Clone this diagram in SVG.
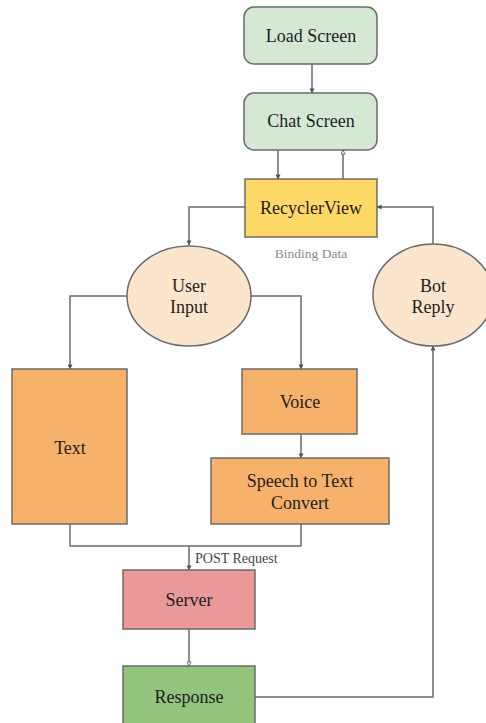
<svg xmlns="http://www.w3.org/2000/svg" width="486" height="723" viewBox="0 0 486 723">
  <style>
    .node { stroke: #6b6b6b; stroke-width: 1.5; }
    .green { fill: #d5e8d4; }
    .yellow { fill: #ffd966; }
    .peach { fill: #fce5cd; }
    .orange { fill: #f6b26b; }
    .red { fill: #ea9999; }
    .dgreen { fill: #93c47d; }
    text { font-family: "Liberation Serif", "Times New Roman", "DejaVu Serif", serif; }
    .label { font-size: 18px; fill: #1e1e1e; text-anchor: middle; dominant-baseline: central; }
    .note { font-size: 13.5px; fill: #8a8a8a; text-anchor: middle; dominant-baseline: central; }
    .edge-label { font-size: 14px; fill: #444; dominant-baseline: central; }
    .edge { fill: none; stroke: #6b6b6b; stroke-width: 1.5; }
  </style>
  <defs>
    <marker id="arrow" viewBox="0 0 6 6" refX="5.5" refY="3" markerWidth="5" markerHeight="5" markerUnits="userSpaceOnUse" orient="auto">
      <path d="M0,0 L6,3 L0,6 Z" fill="#555"/>
    </marker>
    <marker id="arrow-open" viewBox="0 0 6 6" refX="5.5" refY="3" markerWidth="5" markerHeight="5" markerUnits="userSpaceOnUse" orient="auto">
      <path d="M0.5,0.5 L5.5,3 L0.5,5.5 Z" fill="#fff" stroke="#555" stroke-width="1"/>
    </marker>
  </defs>

  <rect width="486" height="723" fill="#ffffff"/>

  <g id="connectors">
    <path class="edge" d="M312,64 V93" marker-end="url(#arrow)"/>
    <path class="edge" d="M278,150 V179" marker-end="url(#arrow)"/>
    <path class="edge" d="M343,179 V150" marker-end="url(#arrow-open)"/>
    <path class="edge" d="M245,207 H189 V245" marker-end="url(#arrow)"/>
    <path class="edge" d="M433,244 V207 H377" marker-end="url(#arrow)"/>
    <path class="edge" d="M127,296 H70 V369" marker-end="url(#arrow)"/>
    <path class="edge" d="M251,296 H301 V369" marker-end="url(#arrow)"/>
    <path class="edge" d="M301,434 V458" marker-end="url(#arrow)"/>
    <path class="edge" d="M70,524 V546 H301 V524"/>
    <path class="edge" d="M189,546 V570" marker-end="url(#arrow)"/>
    <path class="edge" d="M189,629 V666" marker-end="url(#arrow-open)"/>
    <path class="edge" d="M255,697 H433 V346" marker-end="url(#arrow)"/>
    <text class="edge-label" x="195" y="558">POST Request</text>
  </g>

  <g id="load-screen">
    <rect class="node green" x="244" y="7" width="133" height="57" rx="10"/>
    <text class="label" x="311" y="36">Load Screen</text>
  </g>

  <g id="chat-screen">
    <rect class="node green" x="244" y="93" width="133" height="57" rx="10"/>
    <text class="label" x="311" y="121">Chat Screen</text>
  </g>

  <g id="recycler-view">
    <rect class="node yellow" x="245" y="179" width="132" height="58"/>
    <text class="label" x="311" y="208">RecyclerView</text>
    <text class="note" x="311" y="253">Binding Data</text>
  </g>

  <g id="user-input">
    <ellipse class="node peach" cx="189" cy="296" rx="62" ry="50"/>
    <text class="label" x="189" y="286">User</text>
    <text class="label" x="189" y="307">Input</text>
  </g>

  <g id="bot-reply">
    <ellipse class="node peach" cx="433" cy="295" rx="60" ry="51"/>
    <text class="label" x="433" y="286">Bot</text>
    <text class="label" x="433" y="307">Reply</text>
  </g>

  <g id="text">
    <rect class="node orange" x="12" y="369" width="115" height="155"/>
    <text class="label" x="70" y="448">Text</text>
  </g>

  <g id="voice">
    <rect class="node orange" x="242" y="369" width="115" height="65"/>
    <text class="label" x="300" y="402">Voice</text>
  </g>

  <g id="speech-to-text">
    <rect class="node orange" x="211" y="458" width="178" height="66"/>
    <text class="label" x="300" y="481">Speech to Text</text>
    <text class="label" x="300" y="503">Convert</text>
  </g>

  <g id="server">
    <rect class="node red" x="123" y="570" width="132" height="59"/>
    <text class="label" x="189" y="600">Server</text>
  </g>

  <g id="response">
    <rect class="node dgreen" x="123" y="666" width="132" height="62"/>
    <text class="label" x="189" y="697">Response</text>
  </g>
</svg>
